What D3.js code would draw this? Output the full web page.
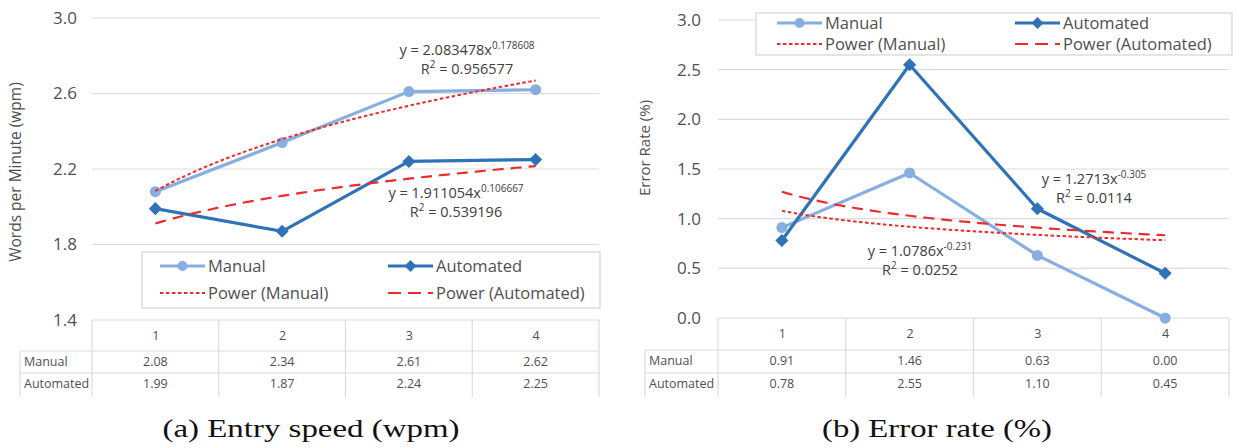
<!DOCTYPE html>
<html>
<head>
<meta charset="utf-8">
<script src="https://cdn.jsdelivr.net/npm/d3@7"></script>
<style>
  html, body { margin: 0; padding: 0; background: #fff; }
  svg { display: block; font-family: "Open Sans", "Noto Sans", sans-serif; }
</style>
</head>
<body>
<svg id="fig" width="1239" height="448"></svg>
<script>
// Session numbers (x axis) and measured values
const sessions = ["1", "2", "3", "4"];
const seriesNames = ["Manual", "Automated"];

// Entry speed, words per minute
const speedManual = [2.08, 2.34, 2.61, 2.62];
const speedAutomated = [1.99, 1.87, 2.24, 2.25];
const speedTicks = [1.4, 1.8, 2.2, 2.6, 3.0];
// Power trendlines y = a * x^b : [a, b, R²]
const speedPowerManual = [2.083478, 0.178608, 0.956577];
const speedPowerAutomated = [1.911054, 0.106667, 0.539196];

// Error rate, percent
const errorManual = [0.91, 1.46, 0.63, 0.00];
const errorAutomated = [0.78, 2.55, 1.10, 0.45];
const errorTicks = [0.0, 0.5, 1.0, 1.5, 2.0, 2.5, 3.0];
const errorPowerManual = [1.0786, -0.231, 0.0252];
const errorPowerAutomated = [1.2713, -0.305, 0.0114];

const COL_MANUAL = "#86aee0";
const COL_AUTO = "#2f72b8";
const COL_TREND = "#ee2a2a";
const COL_GRID = "#dcdcdc";
const COL_TEXT = "#505050";
const SANS = '"Open Sans", "Noto Sans", sans-serif';

const svg = d3.select("#fig");

function drawPanel(cfg) {
  const g = svg.append("g");
  const x = d3.scalePoint().domain(sessions).range([cfg.left, cfg.right]).padding(0.5);
  const xc = d3.scaleLinear().domain([1, 4]).range([x(sessions[0]), x(sessions[3])]);
  const y = d3.scaleLinear().domain(cfg.domain).range([cfg.bottom, cfg.top]);

  // horizontal gridlines (the lowest one is the table's top edge)
  g.append("g").selectAll("line").data(cfg.ticks.slice(1)).join("line")
    .attr("x1", cfg.left).attr("x2", cfg.right)
    .attr("y1", d => y(d)).attr("y2", d => y(d))
    .attr("stroke", COL_GRID).attr("stroke-width", 1.2);

  // y axis tick labels
  const yAxis = d3.axisLeft(y).tickValues(cfg.ticks).tickFormat(d3.format(".1f")).tickSize(0).tickPadding(0);
  const ya = g.append("g").attr("transform", `translate(${cfg.tickRight},0)`).call(yAxis);
  ya.select(".domain").remove();
  ya.selectAll("text").attr("font-size", 17).attr("fill", COL_TEXT).attr("font-family", SANS);

  // y axis title
  g.append("text")
    .attr("transform", `translate(${cfg.titleX},${cfg.titleY}) rotate(-90)`)
    .attr("text-anchor", "middle").attr("font-size", cfg.titleSize).attr("fill", COL_TEXT)
    .text(cfg.title);

  // data table below the plot
  const t = g.append("g");
  const bw = x.step();
  const colEdges = d3.range(sessions.length + 1).map(i => cfg.left + i * bw);
  t.append("line").attr("x1", cfg.left).attr("x2", cfg.right)
    .attr("y1", cfg.bottom).attr("y2", cfg.bottom).attr("stroke", COL_GRID).attr("stroke-width", 1.2);
  [cfg.rowLine1, cfg.rowLine2].forEach(yy => {
    t.append("line").attr("x1", cfg.tableLeft).attr("x2", cfg.right)
      .attr("y1", yy).attr("y2", yy).attr("stroke", COL_GRID).attr("stroke-width", 1.2);
  });
  colEdges.forEach(xx => {
    t.append("line").attr("x1", xx).attr("x2", xx)
      .attr("y1", cfg.bottom).attr("y2", cfg.tableBottom).attr("stroke", COL_GRID).attr("stroke-width", 1.2);
  });
  t.append("line").attr("x1", cfg.tableLeft).attr("x2", cfg.tableLeft)
    .attr("y1", cfg.rowLine1).attr("y2", cfg.tableBottom).attr("stroke", COL_GRID).attr("stroke-width", 1.2);

  const xAxis = d3.axisBottom(x).tickSize(0).tickPadding(0);
  const xa = t.append("g").attr("transform", `translate(0,${cfg.headY})`).call(xAxis);
  xa.select(".domain").remove();
  xa.selectAll("text").attr("font-size", 12.5).attr("fill", COL_TEXT).attr("dy", 0).attr("font-family", SANS);

  const rows = [cfg.manual, cfg.auto];
  rows.forEach((vals, r) => {
    const yy = r === 0 ? cfg.row1Y : cfg.row2Y;
    t.append("text").attr("x", cfg.tableLeft + 4).attr("y", yy)
      .attr("font-size", 12.5).attr("fill", COL_TEXT).text(seriesNames[r]);
    t.selectAll(null).data(vals).join("text")
      .attr("x", (d, i) => x(sessions[i])).attr("y", yy)
      .attr("text-anchor", "middle").attr("font-size", 12.5).attr("fill", COL_TEXT)
      .text(d => d3.format(".2f")(d));
  });

  // power trendlines from their fitted coefficients
  const curveX = d3.range(1, 4.0001, 0.05);
  const trend = (p) => d3.line().x(v => xc(v)).y(v => y(p[0] * Math.pow(v, p[1])))(curveX);

  // series lines and markers
  const line = d3.line().x((d, i) => x(sessions[i])).y(d => y(d));
  g.append("path").attr("d", line(cfg.manual)).attr("fill", "none")
    .attr("stroke", COL_MANUAL).attr("stroke-width", 3.2).attr("stroke-linejoin", "round");
  g.selectAll(null).data(cfg.manual).join("circle")
    .attr("cx", (d, i) => x(sessions[i])).attr("cy", d => y(d)).attr("r", 5.5).attr("fill", COL_MANUAL);
  g.append("path").attr("d", line(cfg.auto)).attr("fill", "none")
    .attr("stroke", COL_AUTO).attr("stroke-width", 3.2).attr("stroke-linejoin", "round");
  g.selectAll(null).data(cfg.auto).join("path")
    .attr("d", d3.symbol(d3.symbolDiamond2, 110))
    .attr("transform", (d, i) => `translate(${x(sessions[i])},${y(d)})`).attr("fill", COL_AUTO);

  g.append("path").attr("d", trend(cfg.powManual)).attr("fill", "none")
    .attr("stroke", COL_TREND).attr("stroke-width", 2).attr("stroke-dasharray", "3.5,2.5");
  g.append("path").attr("d", trend(cfg.powAuto)).attr("fill", "none")
    .attr("stroke", COL_TREND).attr("stroke-width", 2.2).attr("stroke-dasharray", "11,7");

  // trendline equations
  const fmtExp = (b) => (b < 0 ? "-" : "") + String(Math.abs(b));
  [[cfg.powManual, cfg.eqManual], [cfg.powAuto, cfg.eqAuto]].forEach(([p, pos]) => {
    const e = g.append("text").attr("x", pos[0]).attr("y", pos[1])
      .attr("text-anchor", "middle").attr("font-size", 14.5).attr("fill", "#404040");
    e.append("tspan").text(`y = ${p[0]}x`);
    e.append("tspan").attr("dy", -6).attr("font-size", 10).text(fmtExp(p[1]));
    const r = g.append("text").attr("x", pos[0]).attr("y", pos[1] + 19)
      .attr("text-anchor", "middle").attr("font-size", 14.5).attr("fill", "#404040");
    r.append("tspan").text("R");
    r.append("tspan").attr("dy", -6).attr("font-size", 10).text("2");
    r.append("tspan").attr("dy", 6).text(` = ${d3.format(`.${cfg.r2Digits}f`)(p[2])}`);
  });

  // legend
  const L = cfg.legend;
  const lg = g.append("g");
  lg.append("rect").attr("x", L.x0).attr("y", L.y0).attr("width", L.x1 - L.x0).attr("height", L.y1 - L.y0)
    .attr("fill", "#fff").attr("stroke", "#d4d4d4").attr("stroke-width", 1.2);
  const entries = [
    { name: "Manual", col: 0, row: 0, kind: "manual" },
    { name: "Automated", col: 1, row: 0, kind: "auto" },
    { name: "Power (Manual)", col: 0, row: 1, kind: "pm" },
    { name: "Power (Automated)", col: 1, row: 1, kind: "pa" }
  ];
  entries.forEach(en => {
    const sx = L.cols[en.col], yy = L.rows[en.row];
    const s = lg.append("line").attr("x1", sx).attr("x2", sx + L.sw).attr("y1", yy).attr("y2", yy);
    if (en.kind === "manual") {
      s.attr("stroke", COL_MANUAL).attr("stroke-width", 3);
      lg.append("circle").attr("cx", sx + L.sw / 2).attr("cy", yy).attr("r", 5).attr("fill", COL_MANUAL);
    } else if (en.kind === "auto") {
      s.attr("stroke", COL_AUTO).attr("stroke-width", 3);
      lg.append("path").attr("d", d3.symbol(d3.symbolDiamond2, 90))
        .attr("transform", `translate(${sx + L.sw / 2},${yy})`).attr("fill", COL_AUTO);
    } else if (en.kind === "pm") {
      s.attr("stroke", COL_TREND).attr("stroke-width", 2).attr("stroke-dasharray", "3.5,2.5");
    } else {
      s.attr("stroke", COL_TREND).attr("stroke-width", 2.2).attr("stroke-dasharray", "13,7");
    }
    lg.append("text").attr("x", sx + L.sw + 3).attr("y", yy + 6)
      .attr("font-size", 16.5).attr("fill", COL_TEXT).text(en.name);
  });

  // caption
  svg.append("text").attr("x", cfg.capX).attr("y", 437)
    .attr("text-anchor", "middle")
    .style("font-family", '"Liberation Serif", "DejaVu Serif", serif')
    .attr("font-size", 25).attr("fill", "#111")
    .attr("textLength", cfg.capW).attr("lengthAdjust", "spacingAndGlyphs")
    .text(cfg.caption);
}

drawPanel({
  left: 92, right: 599, top: 18, bottom: 320,
  domain: [1.4, 3.0], ticks: speedTicks,
  tickRight: 77, titleX: 21, titleY: 172, titleSize: 15.5,
  title: "Words per Minute (wpm)",
  tableLeft: 20, rowLine1: 351, rowLine2: 373, tableBottom: 397,
  headY: 340, row1Y: 366, row2Y: 388,
  manual: speedManual, auto: speedAutomated,
  powManual: speedPowerManual, powAuto: speedPowerAutomated, r2Digits: 6,
  eqManual: [467, 55], eqAuto: [456, 198],
  legend: { x0: 142, y0: 252, x1: 600, y1: 308, cols: [160, 388], rows: [266, 293], sw: 45 },
  caption: "(a) Entry speed (wpm)", capX: 311, capW: 297
});

drawPanel({
  left: 718, right: 1229, top: 20, bottom: 318,
  domain: [0, 3.0], ticks: errorTicks,
  tickRight: 701, titleX: 650, titleY: 148, titleSize: 15,
  title: "Error Rate (%)",
  tableLeft: 645, rowLine1: 350, rowLine2: 373, tableBottom: 397,
  headY: 338, row1Y: 365, row2Y: 388,
  manual: errorManual, auto: errorAutomated,
  powManual: errorPowerManual, powAuto: errorPowerAutomated, r2Digits: 4,
  eqManual: [920, 256], eqAuto: [1094, 184],
  legend: { x0: 756, y0: 13, x1: 1232, y1: 55, cols: [777, 1015], rows: [23, 44], sw: 45 },
  caption: "(b) Error rate (%)", capX: 937, capW: 230
});
</script>
</body>
</html>
